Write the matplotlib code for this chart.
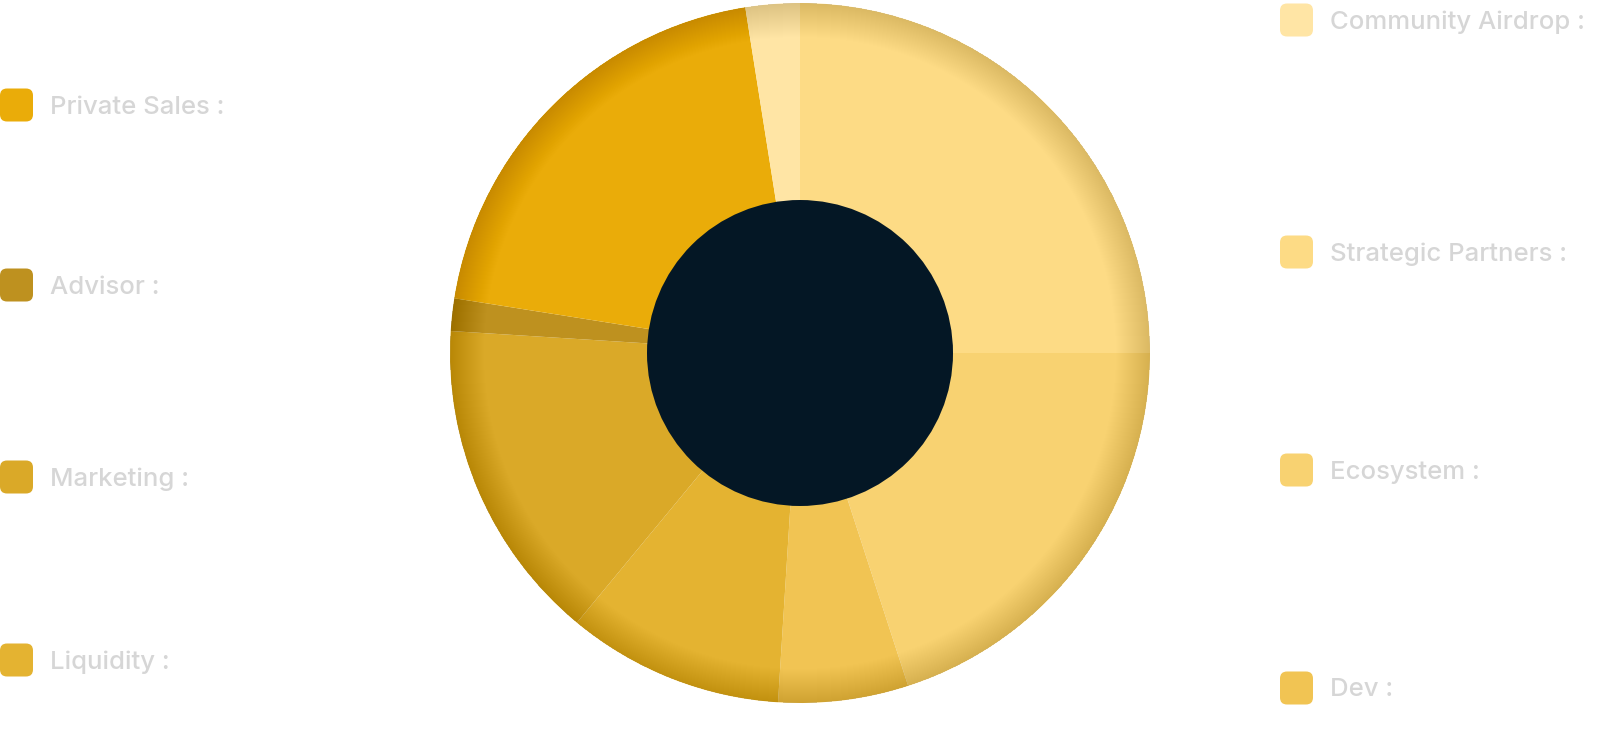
import matplotlib
matplotlib.use("Agg")
import matplotlib.pyplot as plt
from matplotlib.patches import Wedge, Circle, FancyBboxPatch

# Token allocation (percent), clockwise from 12 o'clock
labels = ["Strategic Partners", "Ecosystem", "Dev", "Liquidity",
          "Marketing", "Advisor", "Private Sales", "Community Airdrop"]
shares = [25, 20, 6, 10, 15, 1.5, 20, 2.5]
colors = ["#FDDB85", "#F8D271", "#F1C453", "#E4B331",
          "#DAA928", "#BE911F", "#EAAC09", "#FFE5A5"]

# legend columns
left_items = ["Private Sales", "Advisor", "Marketing", "Liquidity"]
right_items = ["Community Airdrop", "Strategic Partners", "Ecosystem", "Dev"]

W, H = 1600, 750
cx, cy = 800, H - 353
r_out, r_in = 350, 153

fig = plt.figure(figsize=(16, 7.5), dpi=100)
ax = fig.add_axes([0, 0, 1, 1])

ax.pie(shares, colors=colors, startangle=90, counterclock=False,
       center=(cx, cy), radius=r_out,
       wedgeprops=dict(linewidth=0, antialiased=True))

# soft inner shadow along the rim
for k in range(34):
    ax.add_patch(Wedge((cx, cy), r_out, 0, 360, width=34 - k,
                       facecolor="#8a6400", alpha=0.0048, linewidth=0))

# dark hole in the middle
ax.add_patch(Circle((cx, cy), r_in, facecolor="#041725", linewidth=0, zorder=5))

color_of = dict(zip(labels, colors))
left_y = [105, 285, 477, 660]
right_y = [20, 252, 470, 688]

def legend_item(x, y, name):
    yy = H - y
    ax.add_patch(FancyBboxPatch((x, yy - 16.5), 33, 33,
                                boxstyle="round,pad=0,rounding_size=7",
                                facecolor=color_of[name], linewidth=0))
    ax.text(x + 50, yy - 2, name + " :", color="#d6d6d6", fontsize=18.5,
            family="Inter", fontweight="medium", va="center", ha="left")

for name, y in zip(left_items, left_y):
    legend_item(0, y, name)
for name, y in zip(right_items, right_y):
    legend_item(1280, y, name)

ax.set_xlim(0, W)
ax.set_ylim(0, H)
ax.set_aspect("equal")
ax.axis("off")

fig.savefig("out.png", dpi=100, facecolor="white")
